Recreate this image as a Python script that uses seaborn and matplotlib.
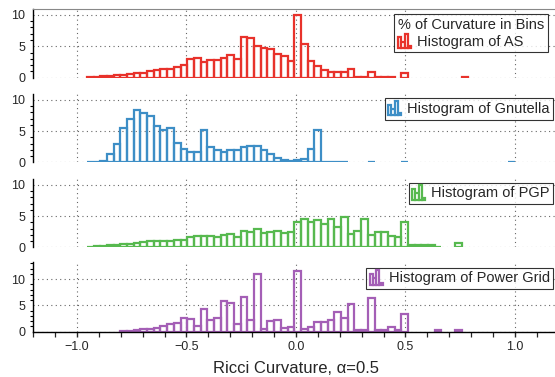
import numpy as np
import pandas as pd
import matplotlib
matplotlib.use("Agg")
import matplotlib.pyplot as plt
import seaborn as sns
from matplotlib.legend_handler import HandlerBase
from matplotlib.patches import Rectangle
from matplotlib.ticker import MultipleLocator

# Shared histogram bins for every network (Ricci curvature, alpha = 0.5)
bin_start = -0.955
bin_width = 0.03055
n_bins = 65

# Percentage of edges falling in each bin, left to right from bin_start
as_pct = [0.1, 0.15, 0.25, 0.3, 0.45, 0.45, 0.6, 0.7, 0.8, 1.0, 1.15, 1.45, 1.4,
          1.65, 2.0, 3.0, 3.1, 2.5, 2.85, 2.75, 3.15, 3.6, 2.95, 6.5, 6.4, 5.0,
          4.7, 4.6, 3.7, 3.45, 2.7, 10.0, 5.3, 2.7, 1.9, 1.3, 0.95, 0.95, 0.95,
          1.4, 0.15, 0.15, 0.95, 0.05, 0.15, 0.15, 0, 0.7, 0, 0, 0, 0, 0, 0, 0,
          0, 0.08]
gnutella_pct = [0.05, 0.1, 0.25, 1.3, 2.9, 5.5, 7.0, 8.35, 7.9, 7.45, 5.85, 5.1,
                5.5, 3.15, 2.2, 1.6, 1.6, 5.1, 2.4, 1.9, 1.7, 1.95, 2.0, 2.4, 2.6,
                2.55, 2.0, 1.3, 0.65, 0.3, 0.25, 0.3, 0.5, 2.1, 5.1, 0.1, 0.1, 0.1,
                0.05, 0, 0, 0, 0.05, 0, 0, 0, 0, 0.1, 0, 0, 0, 0, 0, 0, 0, 0, 0,
                0, 0, 0, 0, 0, 0, 0.1]
pgp_pct = [0.1, 0.15, 0.2, 0.3, 0.4, 0.5, 0.6, 0.7, 0.8, 0.95, 1.0, 1.05, 1.0,
           1.1, 1.2, 1.7, 1.75, 1.8, 1.8, 1.6, 2.0, 2.1, 1.6, 2.6, 2.4, 3.0, 2.3,
           2.5, 2.6, 2.3, 2.5, 4.0, 4.5, 4.0, 4.4, 3.8, 4.5, 3.3, 4.8, 2.2, 2.6,
           4.5, 1.9, 2.5, 2.5, 1.8, 1.7, 4.1, 0.3, 0.4, 0.3, 0.4, 0.1, 0, 0, 0.7]
power_pct = [0, 0, 0, 0, 0, 0.1, 0.2, 0.3, 0.5, 0.6, 0.75, 1.0, 1.4, 1.65, 2.7,
             2.5, 1.15, 4.4, 2.3, 2.65, 5.9, 5.4, 1.4, 6.6, 2.3, 10.9, 0.6, 2.0,
             2.15, 0.75, 0.95, 11.6, 0.6, 0.95, 1.9, 1.9, 2.2, 3.7, 2.65, 5.2,
             0.3, 0.3, 6.45, 0.3, 0.3, 0.95, 0.3, 3.3, 0, 0, 0, 0, 0.3, 0, 0, 0.3]

networks = ["AS", "Gnutella", "PGP", "Power Grid"]
series = [as_pct, gnutella_pct, pgp_pct, power_pct]
colors = ["#e8322b", "#3d8ec6", "#57b94f", "#a45fb6"]
y_tops = [10.9, 10.9, 10.9, 13.2]

rows = []
for name, vals in zip(networks, series):
    for i, v in enumerate(vals):
        rows.append({"network": name,
                     "curvature": bin_start + (i + 0.5) * bin_width,
                     "pct": v})
df = pd.DataFrame(rows)

sns.set_style("white")
plt.rcParams["font.family"] = ["Liberation Sans", "DejaVu Sans"]
plt.rcParams["axes.unicode_minus"] = True


class HistGlyph(HandlerBase):
    """Legend key drawn as a tiny outlined histogram."""
    def create_artists(self, legend, orig_handle, xdescent, ydescent,
                       width, height, fontsize, trans):
        color = orig_handle.get_edgecolor()
        heights = [0.75, 0.45, 1.0, 0.15]
        w = width / len(heights)
        arts = []
        for i, h in enumerate(heights):
            r = Rectangle((-xdescent + i * w, -ydescent - 1), w, h * height * 1.2,
                          facecolor="white", edgecolor=color, lw=1.6,
                          transform=trans)
            arts.append(r)
        return arts


W, H = 555, 377
fig = plt.figure(figsize=(W / 100, H / 100), dpi=100)

# axes boxes in pixels: (top, bottom)
boxes = [(9.3, 77.7), (94.3, 162.3), (179.3, 247.3), (262.3, 331.7)]
left_px, right_px = 33.2, 558.8
legend_anchor = [(548, 14), (553.3, 98.3), (553.3, 182.7), (553.3, 267.7)]

axes = []
for k, (name, color) in enumerate(zip(networks, colors)):
    top, bot = boxes[k]
    ax = fig.add_axes([left_px / W, 1 - bot / H, (right_px - left_px) / W,
                       (bot - top) / H])
    sub = df[df["network"] == name]
    sns.histplot(data=sub, x="curvature", weights="pct",
                 binwidth=bin_width,
                 binrange=(bin_start, bin_start + n_bins * bin_width),
                 fill=False, color=color, linewidth=1.6, ax=ax)
    for p in ax.patches:
        if p.get_height() <= 0:
            p.set_visible(False)

    ax.set_xlim(-1.2, 1.2)
    ax.set_ylim(0, y_tops[k])
    ax.set_ylabel("")
    ax.set_xlabel("")
    ax.xaxis.set_major_locator(MultipleLocator(0.5))
    ax.xaxis.set_minor_locator(MultipleLocator(0.1))
    ax.yaxis.set_major_locator(MultipleLocator(5))
    ax.yaxis.set_minor_locator(MultipleLocator(1))
    ax.grid(True, which="major", linestyle=(0, (1, 3)), color="#666666",
            linewidth=0.8)
    ax.set_axisbelow(True)

    for s in ["right", "top", "bottom"]:
        ax.spines[s].set_visible(False)
    ax.spines["left"].set_color("black")
    ax.spines["left"].set_linewidth(1.0)
    if k == 0:
        ax.spines["top"].set_visible(True)
        ax.spines["top"].set_color("#888888")
        ax.spines["top"].set_linewidth(0.8)

    ax.tick_params(axis="y", which="major", direction="out", length=3.5,
                   width=1.0, labelsize=9, pad=2, color="black")
    ax.tick_params(axis="y", which="minor", direction="out", length=2.5,
                   width=0.8, color="black", left=True)
    if k < 3:
        ax.tick_params(axis="x", which="both", bottom=False, labelbottom=False)
    else:
        ax.spines["bottom"].set_visible(True)
        ax.spines["bottom"].set_color("black")
        ax.spines["bottom"].set_linewidth(1.0)
        ax.tick_params(axis="x", which="major", direction="out", length=3.8,
                       width=1.0, labelsize=9, pad=3, bottom=True)
        ax.tick_params(axis="x", which="minor", direction="out", length=3.5,
                       width=0.9, bottom=True)
        ax.set_xlabel("Ricci Curvature, α=0.5", fontsize=12, labelpad=6)

    proxy = Rectangle((0, 0), 1, 1, facecolor="white", edgecolor=color)
    ax_px, ay_px = legend_anchor[k]
    leg = ax.legend([proxy], [f"Histogram of {name}"],
                    handler_map={proxy: HistGlyph()},
                    title="% of Curvature in Bins" if k == 0 else None,
                    alignment="left", loc="upper right",
                    bbox_to_anchor=(ax_px / W, 1 - ay_px / H),
                    bbox_transform=fig.transFigure,
                    fontsize=10.5, title_fontsize=10.5, frameon=True,
                    fancybox=False, handlelength=0.9, handleheight=0.9,
                    handletextpad=0.4, borderpad=0.25, borderaxespad=0,
                    labelspacing=0.2)
    leg.get_frame().set_edgecolor("black")
    leg.get_frame().set_linewidth(0.8)
    axes.append(ax)

fig.savefig("out.png", dpi=100)
